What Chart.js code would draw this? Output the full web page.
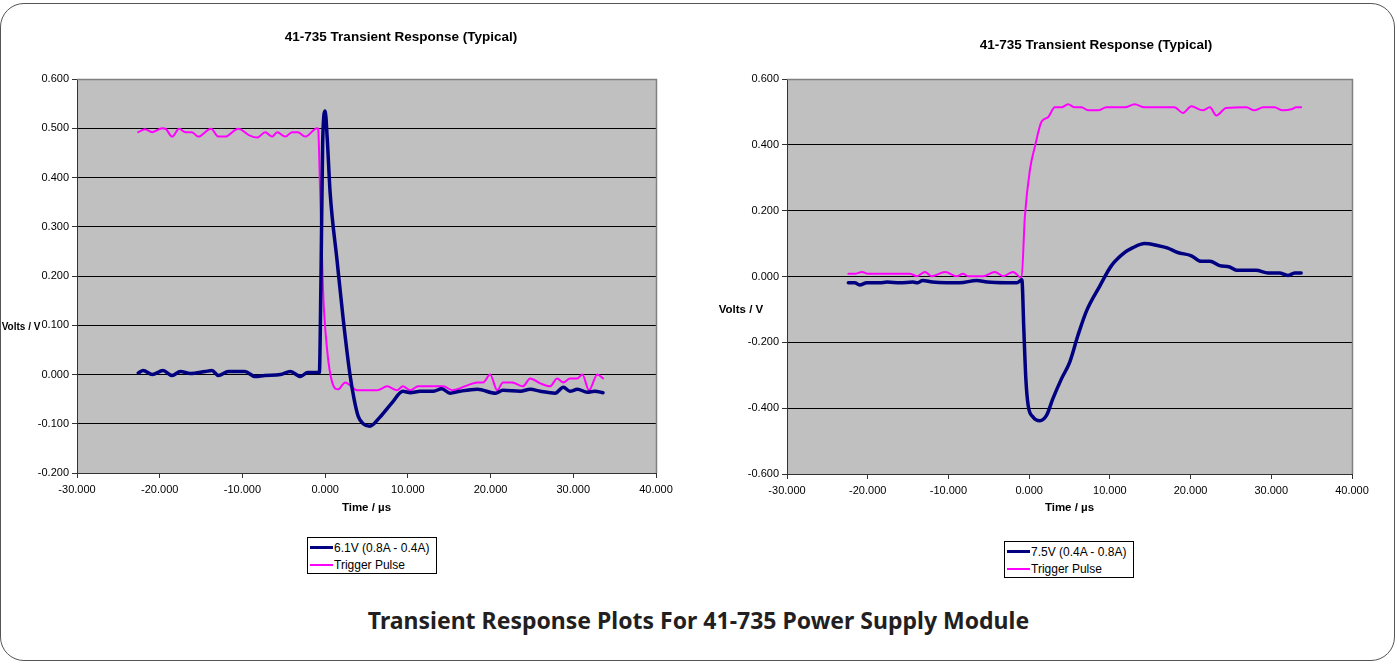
<!DOCTYPE html>
<html>
<head>
<meta charset="utf-8">
<script src="https://cdn.jsdelivr.net/npm/chart.js@4/dist/chart.umd.min.js"></script>
<style>
  html, body { margin: 0; padding: 0; background: #fff; overflow: hidden; }
  #page { position: relative; width: 1397px; height: 666px; }
  #frame { position: absolute; left: 0; top: 3px; width: 1393px; height: 656px;
           border: 1px solid #555; border-radius: 24px; }
  canvas { position: absolute; top: 0; }
  .legend { position: absolute; background: #fff; border: 1px solid #000;
            font: 12px "Liberation Sans", Arial, sans-serif; color: #000;
            padding: 1px 0 0 2px; box-sizing: border-box; }
  .legend div { display: flex; align-items: center; height: 17px; }
  .legend span.swatch { display: inline-block; width: 23px; margin-right: 1px; }
  #caption { position: absolute; left: 0; width: 1397px; top: 604px; text-align: center;
             font: bold 23px "Noto Sans", sans-serif; color: #231f20; }
</style>
</head>
<body>
<div id="page">
  <div id="frame"></div>
  <canvas id="leftChart" width="700" height="530" style="left:0"></canvas>
  <canvas id="rightChart" width="697" height="530" style="left:700px"></canvas>
  <div class="legend" id="leftLegend" style="left:307px;top:537px;width:130px;height:37px"></div>
  <div class="legend" id="rightLegend" style="left:1004px;top:541px;width:130px;height:37px"></div>
  <div id="caption">Transient Response Plots For 41-735 Power Supply Module</div>
</div>
<script>
// Echelles
const xTickValues = [-30, -20, -10, 0, 10, 20, 30, 40];
const leftYTicks  = [-0.2, -0.1, 0, 0.1, 0.2, 0.3, 0.4, 0.5, 0.6];
const rightYTicks = [-0.6, -0.4, -0.2, 0, 0.2, 0.4, 0.6];

const chartTitle = '41-735 Transient Response (Typical)';
const xTitle = 'Time / µs';
const yTitle = 'Volts / V';
const leftSeriesNames  = ['6.1V (0.8A - 0.4A)', 'Trigger Pulse'];
const rightSeriesNames = ['7.5V (0.4A - 0.8A)', 'Trigger Pulse'];

// 6.1V (0.8A - 0.4A)
const left6VTime = [-22.6, -22.0, -20.9, -19.6, -18.5, -17.5, -16.3, -14.5, -13.7, -12.9, -11.7, -9.7, -8.5, -7.3,
  -5.4, -4.2, -3.0, -2.1, -1.1, -0.7, -0.5, -0.3, 0, 0.25, 0.6, 1.45, 2.2, 3.0, 3.5, 4.0, 4.6, 5.4, 6.6, 8.1, 9.4,
  10.3, 11.5, 13.1, 14.1, 15.1, 16.3, 18.4, 20.6, 21.5, 23.6, 24.8, 26.0, 27.8, 28.8, 29.6, 30.5, 31.7, 32.6, 33.6];
const left6VVolts = [0.003, 0.008, 0.0, 0.008, -0.002, 0.006, 0.002, 0.006, 0.008, -0.002, 0.006, 0.006, -0.004, -0.002,
  0.0, 0.006, -0.004, 0.004, 0.004, 0.004, 0.2, 0.47, 0.535, 0.48, 0.37, 0.23, 0.11, 0.0, -0.05, -0.085, -0.1, -0.105,
  -0.087, -0.057, -0.034, -0.037, -0.034, -0.034, -0.029, -0.038, -0.034, -0.030, -0.038, -0.032, -0.034, -0.030,
  -0.034, -0.038, -0.026, -0.034, -0.030, -0.036, -0.034, -0.037];

// trigger, graphe de gauche
const leftTrigTime = [-22.6, -21.8, -20.9, -19.7, -19.3, -18.5, -17.65, -16.9, -16.1, -15.35, -13.8, -12.9, -12.1,
  -10.5, -9.1, -8.2, -7.25, -6.4, -5.8, -4.8, -4.0, -3.3, -2.4, -0.97, -0.85, -0.6, -0.24, 0.24, 0.85, 1.57, 2.42,
  3.87, 6.3, 7.5, 8.7, 9.4, 10.3, 11.25, 14.3, 15.36, 17.2, 18.4, 19.1, 19.95, 20.8, 21.5, 22.6, 23.9, 24.8, 26.0,
  27.2, 28.05, 28.8, 29.6, 30.5, 31.1, 31.9, 32.9, 33.6];
const leftTrigVolts = [0.492, 0.498, 0.492, 0.500, 0.499, 0.483, 0.499, 0.492, 0.492, 0.483, 0.499, 0.483, 0.483,
  0.499, 0.485, 0.481, 0.492, 0.483, 0.492, 0.483, 0.492, 0.492, 0.483, 0.500, 0.499, 0.367, 0.165, 0.05, -0.016,
  -0.030, -0.016, -0.032, -0.032, -0.024, -0.032, -0.024, -0.032, -0.024, -0.024, -0.032, -0.022, -0.016, -0.016,
  0.0, -0.032, -0.016, -0.016, -0.024, -0.008, -0.018, -0.024, -0.008, -0.016, -0.008, -0.008, 0.0, -0.032, 0.0, -0.008];

// 7.5V (0.4A - 0.8A)
const right7VTime = [-22.4, -21.6, -21.0, -20.1, -18.5, -17.6, -16.0, -14.4, -13.8, -13.2, -12.0, -10.2, -8.6, -6.5,
  -5.2, -2.8, -1.5, -0.9, -0.66, -0.41, -0.12, 0.46, 1.32, 2.15, 2.93, 4.0, 5.03, 6.03, 7.1, 8.75, 10.2, 11.85, 12.8,
  14.3, 15.9, 17.1, 18.4, 20.1, 21.3, 22.4, 23.6, 24.85, 25.7, 26.9, 28.1, 29.6, 31.0, 32.05, 32.9, 33.7];
const right7VVolts = [-0.019, -0.019, -0.026, -0.019, -0.019, -0.017, -0.019, -0.017, -0.019, -0.012, -0.017, -0.019,
  -0.019, -0.012, -0.017, -0.019, -0.019, -0.010, -0.16, -0.31, -0.392, -0.426, -0.438, -0.422, -0.372, -0.311, -0.26,
  -0.18, -0.105, -0.029, 0.033, 0.073, 0.087, 0.100, 0.094, 0.087, 0.073, 0.063, 0.046, 0.046, 0.033, 0.029, 0.019,
  0.019, 0.019, 0.011, 0.011, 0.003, 0.011, 0.011];

// trigger, graphe de droite
const rightTrigTime = [-22.4, -21.6, -20.7, -19.95, -14.8, -13.9, -12.9, -12.1, -10.4, -9.0, -8.2, -7.55, -5.7, -4.25,
  -3.2, -2.0, -0.94, -0.53, 0.09, 0.71, 1.53, 2.35, 3.18, 4.0, 4.83, 5.66, 6.49, 7.3, 8.54, 9.58, 11.84, 13.08, 14.3,
  18.0, 19.06, 20.1, 21.5, 22.4, 23.2, 24.4, 26.9, 27.9, 29.0, 30.4, 31.4, 32.5, 33.1, 33.7];
const rightTrigVolts = [0.008, 0.008, 0.014, 0.008, 0.008, 0.001, 0.014, 0.001, 0.014, 0.001, 0.008, 0.001, 0.001,
  0.014, 0.001, 0.014, -0.004, 0.182, 0.323, 0.394, 0.47, 0.484, 0.514, 0.514, 0.523, 0.514, 0.514, 0.505, 0.505,
  0.514, 0.514, 0.523, 0.514, 0.514, 0.497, 0.517, 0.505, 0.514, 0.489, 0.512, 0.514, 0.505, 0.514, 0.514, 0.505,
  0.508, 0.514, 0.514];

const NAVY = '#000080';
const MAGENTA = '#ff00ff';
const FONT = '"Liberation Sans", Arial, sans-serif';

Chart.defaults.font.family = FONT;
Chart.defaults.font.size = 11;
Chart.defaults.color = '#000';

const toPoints = (xs, ys) => xs.map((x, i) => ({ x, y: ys[i] }));

// fond gris, cadre, titre et libelle Y horizontal
const plotDecor = {
  id: 'plotDecor',
  beforeDraw(chart) {
    const a = chart.chartArea, ctx = chart.ctx;
    ctx.save();
    ctx.fillStyle = '#c0c0c0';
    ctx.fillRect(a.left, a.top, a.right - a.left, a.bottom - a.top);
    ctx.restore();
  },
  beforeDatasetsDraw(chart) {
    const a = chart.chartArea, ctx = chart.ctx;
    ctx.save();
    ctx.strokeStyle = '#808080';
    ctx.lineWidth = 1.5;
    ctx.beginPath();
    ctx.moveTo(a.left, a.top + 0.5);
    ctx.lineTo(a.right + 0.5, a.top + 0.5);
    ctx.lineTo(a.right + 0.5, a.bottom);
    ctx.stroke();
    ctx.restore();
  },
  afterDraw(chart, args, opts) {
    const ctx = chart.ctx;
    ctx.save();
    ctx.fillStyle = '#000';
    ctx.textAlign = 'center';
    ctx.textBaseline = 'middle';
    ctx.font = 'bold 13.5px ' + FONT;
    ctx.fillText(opts.title.text, opts.title.x, opts.title.y);
    ctx.font = 'bold ' + opts.yTitle.size + 'px ' + FONT;
    ctx.fillText(opts.yTitle.text, opts.yTitle.x, opts.yTitle.y);
    ctx.restore();
  }
};

function makeChart(id, cfg) {
  return new Chart(document.getElementById(id), {
    type: 'line',
    data: {
      datasets: [
        { label: cfg.names[0], data: cfg.main, borderColor: NAVY, backgroundColor: NAVY, borderWidth: 3.5 },
        { label: cfg.names[1], data: cfg.trig, borderColor: MAGENTA, backgroundColor: MAGENTA, borderWidth: 2 }
      ]
    },
    options: {
      responsive: false,
      animation: false,
      devicePixelRatio: 1,
      parsing: false,
      layout: { padding: cfg.padding },
      elements: {
        point: { radius: 0 },
        line: { cubicInterpolationMode: 'monotone', borderCapStyle: 'round', borderJoinStyle: 'round' }
      },
      plugins: {
        legend: { display: false },
        tooltip: { enabled: false },
        plotDecor: { title: cfg.title, yTitle: cfg.yTitle }
      },
      scales: {
        x: {
          type: 'linear', min: -30, max: 40,
          afterBuildTicks: s => { s.ticks = xTickValues.map(v => ({ value: v })); },
          afterFit: s => { s.height = cfg.xHeight; },
          ticks: { callback: v => v.toFixed(3), maxRotation: 0, autoSkip: false, padding: 5 },
          grid: { drawOnChartArea: false, tickLength: 5, color: '#333' },
          border: { color: '#333', width: 1 },
          title: { display: true, text: xTitle, font: { weight: 'bold', size: 11.5 }, padding: 0 }
        },
        y: {
          type: 'linear', min: cfg.yTicks[0], max: cfg.yTicks[cfg.yTicks.length - 1],
          afterBuildTicks: s => { s.ticks = cfg.yTicks.map(v => ({ value: v })); },
          afterFit: s => { s.width = 40; },
          ticks: { callback: v => v.toFixed(3), autoSkip: false, padding: 3 },
          grid: {
            tickLength: 5, tickColor: '#333',
            color: c => (c.tick && c.tick.value === cfg.yTicks[cfg.yTicks.length - 1]) ? '#808080' : '#000'
          },
          border: { color: '#333', width: 1 }
        }
      }
    },
    plugins: [plotDecor]
  });
}

const leftChart = makeChart('leftChart', {
  names: leftSeriesNames,
  main: toPoints(left6VTime, left6VVolts),
  trig: toPoints(leftTrigTime, leftTrigVolts),
  yTicks: leftYTicks,
  padding: { left: 37, top: 79, right: 44, bottom: 15 },
  xHeight: 42,
  title: { text: chartTitle, x: 401, y: 37 },
  yTitle: { text: yTitle, x: 21, y: 327, size: 10 }
});

const rightChart = makeChart('rightChart', {
  names: rightSeriesNames,
  main: toPoints(right7VTime, right7VVolts),
  trig: toPoints(rightTrigTime, rightTrigVolts),
  yTicks: rightYTicks,
  padding: { left: 47, top: 79, right: 45, bottom: 15 },
  xHeight: 41,
  title: { text: chartTitle, x: 396, y: 45 },
  yTitle: { text: yTitle, x: 41, y: 310, size: 11.5 }
});

// legende encadree sous chaque graphe
function buildLegend(chart, elId) {
  const el = document.getElementById(elId);
  el.innerHTML = chart.data.datasets.map(ds => `
    <div><span class="swatch" style="border-top:${ds.borderWidth}px solid ${ds.borderColor}"></span>${ds.label}</div>
  `).join('');
}
buildLegend(leftChart, 'leftLegend');
buildLegend(rightChart, 'rightLegend');
</script>
</body>
</html>
